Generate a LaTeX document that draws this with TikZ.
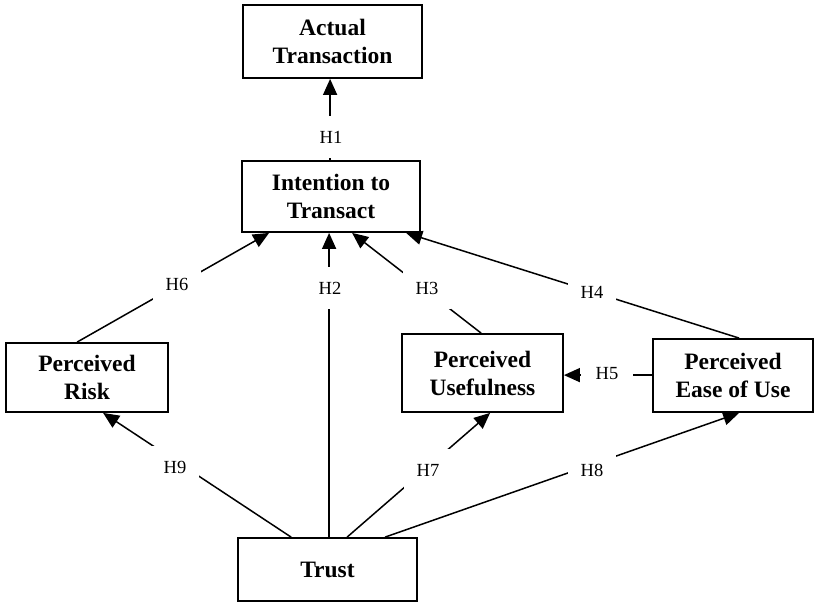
\documentclass[tikz,border=0pt]{standalone}
\usepackage{fontspec}
\setmainfont{Liberation Serif}
\usetikzlibrary{arrows.meta}
\begin{document}
\begin{tikzpicture}[x=1pt,y=-1pt,
  box/.style={draw, line width=1.8pt, inner sep=0pt, align=center,
    font=\fontsize{23.5}{28}\selectfont\bfseries},
  conn/.style={line width=1.5pt, -{Triangle[length=16pt,width=14pt]}},
  lbl/.style={fill=white, inner xsep=13pt, inner ysep=15pt,
    font=\fontsize{18.5}{20}\selectfont}]
\fill[white] (0,0) rectangle (816,603);
\useasboundingbox (0,0) rectangle (816,603);

% boxes
\node[box, minimum width=179pt, minimum height=73pt] (actual) at (332.5,41.5) {Actual\\Transaction};
\node[box, minimum width=178pt, minimum height=71pt] (intent) at (331,196.5) {Intention to\\Transact};
\node[box, minimum width=162pt, minimum height=69pt] (risk) at (87,377.5) {Perceived\\Risk};
\node[box, minimum width=161pt, minimum height=78pt] (useful) at (482.5,373) {Perceived\\Usefulness};
\node[box, minimum width=160pt, minimum height=73pt] (ease) at (733,375.5) {Perceived\\Ease of Use};
\node[box, minimum width=179pt, minimum height=63pt] (trust) at (327.5,569.5) {Trust};

% connectors
\draw[conn] ([xshift=89pt]intent.north west) -- ([xshift=88pt]actual.south west);
\draw[conn] ([xshift=92pt]trust.north west) -- ([xshift=88pt]intent.south west);
\draw[conn] ([xshift=72pt]risk.north west) -- ([xshift=28pt]intent.south west);
\draw[conn] ([xshift=80pt]useful.north west) -- ([xshift=111pt]intent.south west);
\draw[conn] ([xshift=87pt]ease.north west) -- ([xshift=165pt]intent.south west);
\draw[conn] ([yshift=-37pt]ease.north west) -- ([yshift=-42pt]useful.north east);
\draw[conn] ([xshift=54pt]trust.north west) -- ([xshift=98pt]risk.south west);
\draw[conn] ([xshift=110pt]trust.north west) -- ([xshift=89pt]useful.south west);
\draw[conn] ([xshift=148pt]trust.north west) -- ([xshift=87pt]ease.south west);

% labels
\node[lbl] (h1) at (331,137) {H1};
\node[lbl] (h2) at (330,288) {H2};
\node[lbl] (h6) at (177,284) {H6};
\node[lbl] (h3) at (427,288) {H3};
\node[lbl] (h4) at (592,292) {H4};
\node[lbl, inner xsep=15pt] (h5) at (607,374) {H5};
\node[lbl] (h9) at (175,467) {H9};
\node[lbl] (h7) at (428,470) {H7};
\node[lbl] (h8) at (592,470) {H8};
\end{tikzpicture}
\end{document}
